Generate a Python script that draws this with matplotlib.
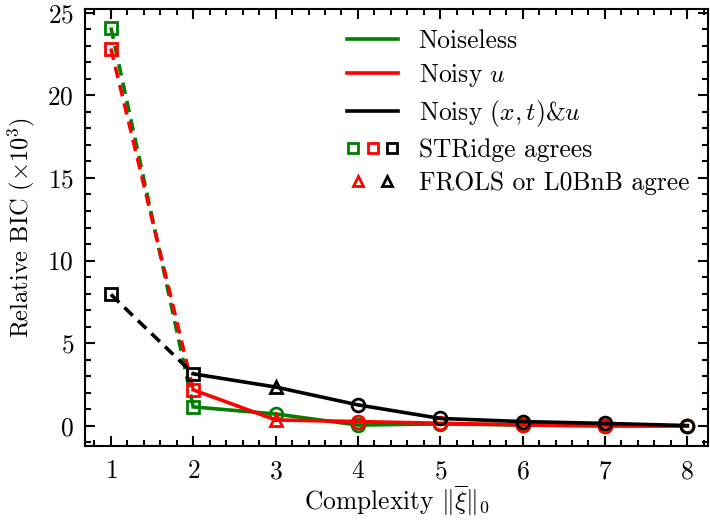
import numpy as np
import matplotlib
matplotlib.use("Agg")
import matplotlib.pyplot as plt
from matplotlib.lines import Line2D
from matplotlib.legend_handler import HandlerTuple
from matplotlib.ticker import MultipleLocator

plt.rcParams.update({
    "font.family": "serif",
    "font.serif": ["cmr10"],
    "mathtext.fontset": "cm",
    "axes.formatter.use_mathtext": True,
    "font.size": 9.2,
    "axes.linewidth": 0.75,
    "xtick.direction": "in", "ytick.direction": "in",
    "xtick.top": True, "ytick.right": True,
    "xtick.major.size": 3.6, "ytick.major.size": 3.6,
    "xtick.minor.size": 2.0, "ytick.minor.size": 2.0,
    "xtick.major.width": 0.75, "ytick.major.width": 0.75,
    "xtick.minor.width": 0.75, "ytick.minor.width": 0.75,
    "xtick.minor.visible": True, "ytick.minor.visible": True,
    "xtick.major.pad": 5, "ytick.major.pad": 4,
})

complexity = [1, 2, 3, 4, 5, 6, 7, 8]
noiseless = [24.1, 1.15, 0.72, 0.05, 0.12, 0.05, 0.0, 0.0]
noisy_u = [22.83, 2.18, 0.36, 0.26, 0.16, 0.06, 0.01, 0.0]
noisy_xtu = [7.95, 3.15, 2.35, 1.27, 0.45, 0.26, 0.15, 0.02]

# marker kind per point: s = STRidge agrees, ^ = FROLS/L0BnB agree, o = other
marks_noiseless = ["s", "s", "o", "o", "o", "o", "o", "o"]
marks_noisy_u = ["s", "s", "^", "o", "o", "o", "o", "o"]
marks_noisy_xtu = ["s", "s", "^", "o", "o", "o", "o", "o"]

series = [
    ("Noiseless", noiseless, marks_noiseless, "green"),
    ("Noisy $u$", noisy_u, marks_noisy_u, "red"),
    ("Noisy $(x,t)$&$u$", noisy_xtu, marks_noisy_xtu, "black"),
]

fig = plt.figure(figsize=(3.55, 2.605), dpi=200)
ax = fig.add_axes([0.1197, 0.1445, 0.8773, 0.8382])

x = np.array(complexity)
for name, vals, marks, col in series:
    y = np.array(vals)
    ax.plot(x[:2], y[:2], "--", color=col, lw=1.3, dashes=(3.2, 2.0))
    ax.plot(x[1:], y[1:], "-", color=col, lw=1.3)
    for m in ("s", "^", "o"):
        sel = [i for i, k in enumerate(marks) if k == m]
        ax.plot(x[sel], y[sel], ls="none", marker=m, ms=4.6, mfc="none",
                mec=col, mew=1.0)

ax.set_xlim(0.685, 8.25)
ax.set_ylim(-1.2, 25.22)
ax.xaxis.set_major_locator(MultipleLocator(1))
ax.xaxis.set_minor_locator(MultipleLocator(0.2))
ax.yaxis.set_major_locator(MultipleLocator(5))
ax.yaxis.set_minor_locator(MultipleLocator(1))
ax.set_xlabel(r"Complexity $\|\overline{\xi}\|_0$", labelpad=0)
ax.set_ylabel(r"Relative BIC ($\times 10^3$)", fontsize=8.8)
ax.yaxis.set_label_coords(-0.077, 0.5)

handles = [Line2D([], [], color=c, lw=1.3) for _, _, _, c in series]
sq = tuple(Line2D([], [], ls="none", marker="s", ms=3.6, mfc="none", mec=c, mew=1.0)
           for c in ("green", "red", "black"))
tri = tuple(Line2D([], [], ls="none", marker="^", ms=3.6, mfc="none", mec=c, mew=1.0)
            for c in ("red", "black"))
labels = [s[0] for s in series] + ["STRidge agrees", "FROLS or L0BnB agree"]
ax.legend(handles + [sq, tri], labels, frameon=False, loc="upper right",
          bbox_to_anchor=(1.007, 1.007),
          handler_map={tuple: HandlerTuple(ndivide=None, pad=0.3)},
          borderaxespad=0.5, handlelength=2.0, labelspacing=0.36)

fig.savefig("out.png", dpi=200)
